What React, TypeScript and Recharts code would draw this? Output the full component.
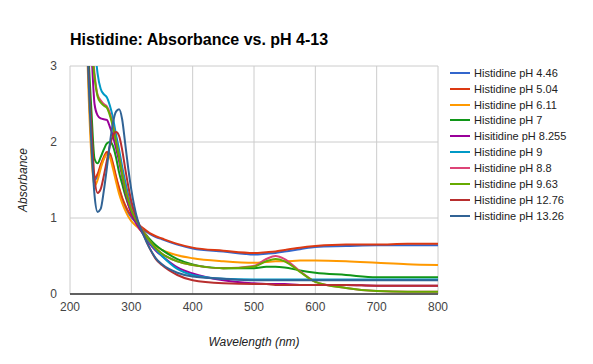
import { LineChart, Line, XAxis, YAxis, CartesianGrid } from 'recharts';

const wavelengths = [
  225, 230, 235, 240, 245, 250, 255, 260, 265, 270, 275, 280, 285, 290, 295, 300,
  310, 320, 330, 340, 350, 375, 400, 450, 500, 520, 535, 550, 575, 600, 650, 700, 750, 800,
];

const ph446 = [4.2, 2.9, 1.95, 1.5, 1.55, 1.68, 1.78, 1.85, 1.83, 1.7, 1.53, 1.38, 1.25, 1.15, 1.07, 1.01, 0.92, 0.85, 0.79, 0.75, 0.72, 0.65, 0.6, 0.56, 0.52, 0.53, 0.54, 0.56, 0.59, 0.62, 0.63, 0.64, 0.64, 0.64];
const ph504 = [4.3, 3.0, 2.0, 1.53, 1.58, 1.7, 1.8, 1.87, 1.85, 1.72, 1.55, 1.4, 1.27, 1.17, 1.09, 1.03, 0.93, 0.86, 0.8, 0.76, 0.73, 0.66, 0.61, 0.57, 0.54, 0.55, 0.56, 0.58, 0.61, 0.63, 0.65, 0.65, 0.66, 0.66];
const ph611 = [4.0, 2.7, 1.8, 1.42, 1.5, 1.65, 1.77, 1.84, 1.8, 1.65, 1.48, 1.32, 1.2, 1.1, 1.02, 0.96, 0.88, 0.79, 0.7, 0.63, 0.58, 0.51, 0.47, 0.43, 0.41, 0.42, 0.43, 0.43, 0.44, 0.44, 0.43, 0.41, 0.39, 0.38];
const ph7 = [4.5, 3.2, 2.4, 1.78, 1.72, 1.8, 1.9, 1.98, 2.0, 1.95, 1.8, 1.6, 1.45, 1.3, 1.18, 1.08, 0.93, 0.82, 0.72, 0.64, 0.58, 0.46, 0.39, 0.34, 0.34, 0.36, 0.36, 0.35, 0.31, 0.28, 0.25, 0.22, 0.22, 0.22];
const ph8255 = [5.0, 4.0, 3.2, 2.5, 2.35, 2.31, 2.3, 2.29, 2.2, 2.08, 1.92, 1.75, 1.55, 1.35, 1.18, 1.06, 0.9, 0.78, 0.66, 0.57, 0.5, 0.35, 0.27, 0.18, 0.14, 0.13, 0.13, 0.13, 0.12, 0.12, 0.12, 0.11, 0.11, 0.11];
const ph9 = [5.5, 4.5, 3.8, 3.3, 2.9, 2.7, 2.63, 2.59, 2.48, 2.32, 2.1, 1.9, 1.68, 1.48, 1.3, 1.15, 0.95, 0.8, 0.68, 0.58, 0.5, 0.33, 0.25, 0.2, 0.19, 0.19, 0.19, 0.19, 0.19, 0.19, 0.19, 0.19, 0.19, 0.19];
const ph88 = [5.2, 4.2, 3.4, 2.9, 2.62, 2.55, 2.5, 2.47, 2.38, 2.22, 2.02, 1.82, 1.6, 1.4, 1.25, 1.12, 0.95, 0.82, 0.7, 0.6, 0.53, 0.43, 0.38, 0.34, 0.37, 0.46, 0.5, 0.46, 0.3, 0.16, 0.08, 0.04, 0.03, 0.03];
const ph963 = [5.0, 4.0, 3.3, 2.85, 2.6, 2.52, 2.48, 2.45, 2.35, 2.2, 2.0, 1.8, 1.58, 1.38, 1.23, 1.1, 0.94, 0.81, 0.7, 0.6, 0.53, 0.43, 0.38, 0.34, 0.36, 0.43, 0.46, 0.43, 0.29, 0.16, 0.08, 0.04, 0.03, 0.03];
const ph1276 = [4.5, 3.0, 2.2, 1.52, 1.33, 1.38, 1.55, 1.75, 1.95, 2.08, 2.13, 2.08, 1.9, 1.65, 1.42, 1.22, 0.97, 0.78, 0.6, 0.46, 0.38, 0.25, 0.18, 0.14, 0.13, 0.13, 0.12, 0.12, 0.12, 0.12, 0.12, 0.11, 0.11, 0.11];
const ph1326 = [4.3, 2.9, 1.95, 1.3, 1.08, 1.12, 1.35, 1.65, 1.98, 2.25, 2.4, 2.43, 2.3, 1.98, 1.65, 1.37, 0.98, 0.77, 0.6, 0.47, 0.39, 0.28, 0.23, 0.2, 0.18, 0.18, 0.18, 0.18, 0.18, 0.18, 0.18, 0.18, 0.18, 0.18];

const xTicks = [200, 300, 400, 500, 600, 700, 800];
const yTicks = [0, 1, 2, 3];

const series = [
  { key: 'ph446', name: 'Histidine pH 4.46', values: ph446, color: '#3366cc' },
  { key: 'ph504', name: 'Histidine pH 5.04', values: ph504, color: '#dc3912' },
  { key: 'ph611', name: 'Histidine pH 6.11', values: ph611, color: '#ff9900' },
  { key: 'ph7', name: 'Histidine pH 7', values: ph7, color: '#109618' },
  { key: 'ph8255', name: 'Hisitidine pH 8.255', values: ph8255, color: '#990099' },
  { key: 'ph9', name: 'Histidine pH 9', values: ph9, color: '#0099c6' },
  { key: 'ph88', name: 'Histidine pH 8.8', values: ph88, color: '#dd4477' },
  { key: 'ph963', name: 'Histidine pH 9.63', values: ph963, color: '#66aa00' },
  { key: 'ph1276', name: 'Histidine pH 12.76', values: ph1276, color: '#b82e2e' },
  { key: 'ph1326', name: 'Histidine pH 13.26', values: ph1326, color: '#316395' },
];

const data = wavelengths.map((w, i) => {
  const row: Record<string, number> = { wavelength: w };
  series.forEach((s) => { row[s.key] = s.values[i]; });
  return row;
});

const font = 'Arial, "Liberation Sans", sans-serif';

export default function App() {
  return (
    <div style={{ position: 'absolute', left: 0, top: 0, width: 593, height: 364, background: '#fff', fontFamily: font }}>
      <div style={{ position: 'absolute', left: 70, top: 31, fontSize: 16, fontWeight: 'bold', color: '#000' }}>
        Histidine: Absorbance vs. pH 4-13
      </div>

      <LineChart width={593} height={364} data={data} margin={{ top: 66, right: 155, bottom: 18, left: 10 }}>
        <CartesianGrid stroke="#cccccc" strokeWidth={1} />
        <XAxis
          dataKey="wavelength"
          type="number"
          domain={[200, 800]}
          ticks={xTicks}
          height={52}
          tickLine={false}
          axisLine={{ stroke: '#333333', strokeWidth: 1.5 }}
          tick={{ fill: '#444444', fontSize: 12, fontFamily: font }}
          label={{ value: 'Wavelength (nm)', position: 'insideBottom', offset: 0, fill: '#222222', fontSize: 12, fontStyle: 'italic', fontFamily: font }}
        />
        <YAxis
          type="number"
          domain={[0, 3]}
          ticks={yTicks}
          allowDataOverflow
          width={60}
          tickLine={false}
          axisLine={false}
          tickMargin={7}
          tick={{ fill: '#444444', fontSize: 12, fontFamily: font }}
          label={{ value: 'Absorbance', angle: -90, position: 'insideLeft', offset: 13, style: { textAnchor: 'middle' }, fill: '#222222', fontSize: 12, fontStyle: 'italic', fontFamily: font }}
        />
        {series.map((s) => (
          <Line
            key={s.key}
            dataKey={s.key}
            name={s.name}
            type="monotone"
            stroke={s.color}
            strokeWidth={2}
            dot={false}
            activeDot={false}
            isAnimationActive={false}
          />
        ))}
      </LineChart>

      <div style={{ position: 'absolute', left: 450, top: 65 }}>
        {series.map((s) => (
          <div key={s.key} style={{ display: 'flex', alignItems: 'center', height: 15.85 }}>
            <div style={{ width: 20, height: 2, background: s.color, marginRight: 4 }} />
            <span style={{ fontSize: 11, color: '#222222', whiteSpace: 'nowrap' }}>{s.name}</span>
          </div>
        ))}
      </div>
    </div>
  );
}
